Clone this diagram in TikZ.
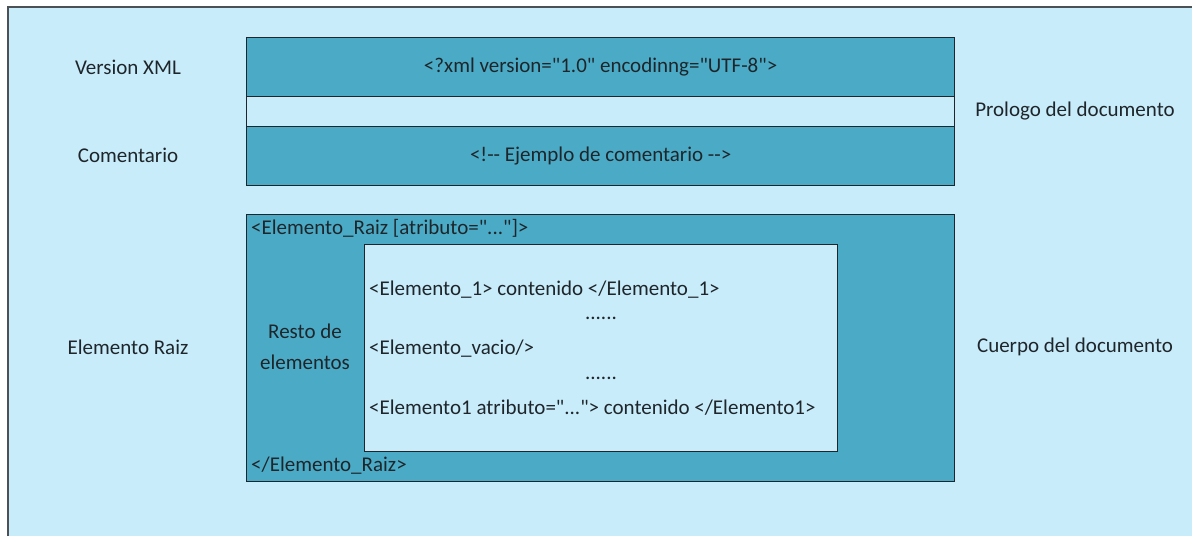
\documentclass[tikz,border=0pt]{standalone}
\usepackage{fontspec}
\setmainfont{Carlito}
\definecolor{bgblue}{HTML}{C9ECFA}
\definecolor{boxteal}{HTML}{4BABC6}
\definecolor{ink}{HTML}{1E262B}
% straight double quote, from a font instance without the TeX text mapping
\font\plainq="Carlito" at 21pt
\newcommand{\dq}{{\plainq\char34}}
\begin{document}
\begin{tikzpicture}[x=1pt,y=-1pt,
  lbl/.style={font=\fontsize{21}{24}\selectfont, text=ink, inner sep=0pt},
  band/.style={draw=ink, line width=1.3pt, fill=boxteal, inner sep=0pt, anchor=north west},
  pale/.style={draw=ink, line width=1.3pt, fill=bgblue, inner sep=0pt, anchor=north west}]
\useasboundingbox (0,0) rectangle (1192,536);
% page frame
\fill[bgblue] (8,7) rectangle (1192,536);
\draw[ink!80, line width=1.3pt] (8,536) -- (8,7) -- (1192,7);

% prologue
\node[band, minimum width=708pt, minimum height=59pt] (xmldecl) at (246,37) {};
\node[pale, minimum width=708pt, minimum height=30pt] (gap) at (246,96) {};
\node[band, minimum width=708pt, minimum height=59pt] (comment) at (246,126) {};
\node[lbl] (xmltxt) at (xmldecl.center) {<?xml version=\dq1.0\dq{} encodinng=\dq UTF-8\dq>};
\node[lbl] (cmttxt) at (comment.center) {<!-{}- Ejemplo de comentario -{}->};

% body
\node[band, minimum width=708pt, minimum height=267pt] (root) at (246,214) {};
\node[pale, minimum width=473pt, minimum height=207pt] (inner) at (364,244) {};
\node[lbl, anchor=west] (rootopen) at (251,228) {<Elemento\_Raiz [atributo=\dq...\dq]>};
\node[lbl, anchor=west] (rootclose) at (251,466) {</Elemento\_Raiz>};
\node[lbl, align=center, font=\fontsize{21}{31}\selectfont] (resto) at (305,347) {Resto de\\elementos};

\node[lbl, anchor=west] (el1) at (369,290) {<Elemento\_1> contenido </Elemento\_1>};
\node[lbl] (dots1) at (601,318) {......};
\node[lbl, anchor=west] (elvac) at (369,349) {<Elemento\_vacio/>};
\node[lbl] (dots2) at (601,378) {......};
\node[lbl, anchor=west] (el2) at (369,408) {<Elemento1 atributo=\dq...\dq> contenido </Elemento1>};

% side labels
\node[lbl] (lver) at (128,67) {Version XML};
\node[lbl] (lcom) at (128,155) {Comentario};
\node[lbl] (lraiz) at (128,347) {Elemento Raiz};
\node[lbl] (lprol) at (1075,111) {Prologo del documento};
\node[lbl] (lcuer) at (1075,347) {Cuerpo del documento};
\end{tikzpicture}
\end{document}
